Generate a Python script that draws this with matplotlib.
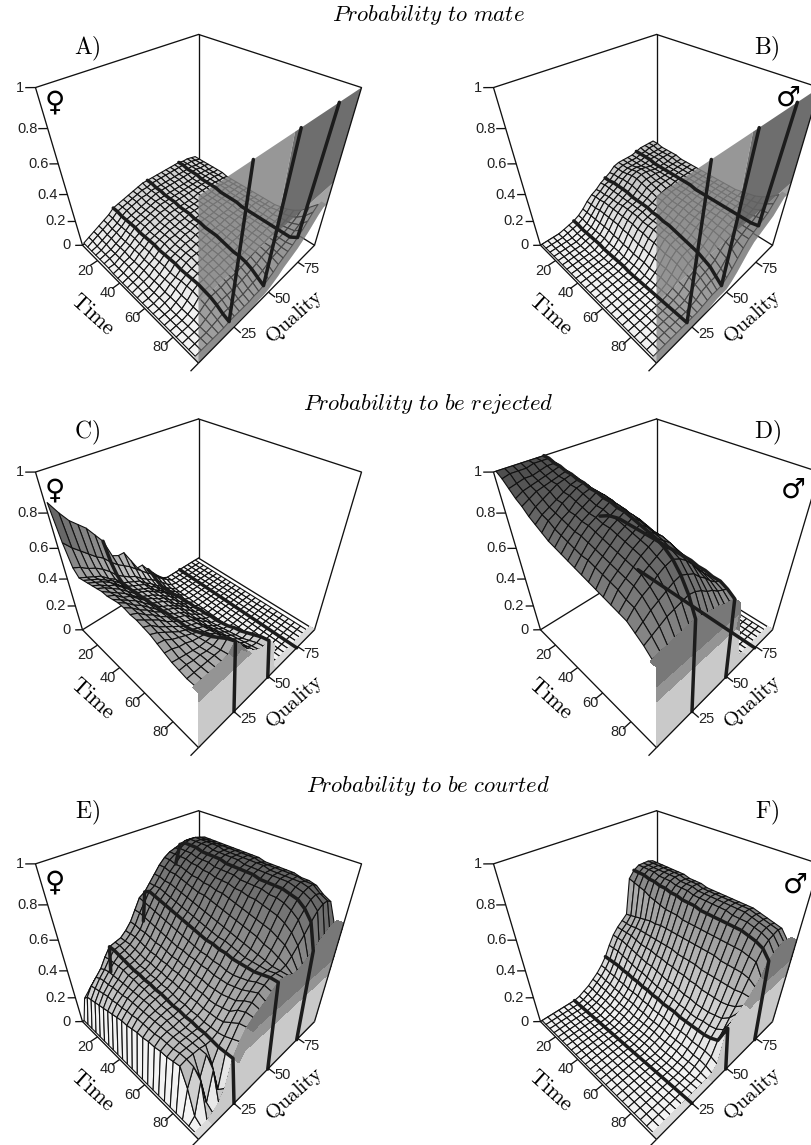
import numpy as np
import matplotlib
matplotlib.use('Agg')
import matplotlib.pyplot as plt
from mpl_toolkits.mplot3d.art3d import Poly3DCollection
from mpl_toolkits.mplot3d import proj3d

plt.rcParams['font.family'] = ['Liberation Sans', 'DejaVu Sans']
plt.rcParams['mathtext.fontset'] = 'cm'

W, H = 812, 1145

# grid of the surfaces
time_grid = [5, 9, 13, 17, 21, 25, 29, 33, 37, 41, 45, 49, 53, 57, 61, 65, 69, 73, 77, 81, 85, 89, 93]
quality_grid = [4, 7.5, 11, 14.5, 18, 21.5, 25, 28.5, 32, 35.5, 39, 42.5, 46, 49.5, 53, 56.5, 60, 63.5, 67, 70.5, 74, 77.5, 81, 84.5, 88]
time_end = 96
time_ticks = [20, 40, 60, 80]
quality_ticks = [25, 50, 75]
z_ticks = [0, 0.2, 0.4, 0.6, 0.8, 1]
z_tick_labels = ['0', '0.2', '0.4', '0.6', '0.8', '1']
line_columns = [6, 13, 20]  # the thick lines are at quality 25, 50, 75

# probability x 100, one row per time step, one column per quality step
a_rows = [
    [1,3,5,7,9,11,14,15,16,17,18,19,20,20,20,20,20,20,20,20,20,19,19,18,17],
    [1,3,5,7,9,11,14,15,16,17,18,19,19,20,20,20,20,20,20,20,20,19,19,18,17],
    [1,2,4,6,8,10,13,15,16,17,18,18,19,19,19,19,19,19,19,19,19,19,18,18,17],
    [1,2,4,6,8,10,13,14,15,16,17,18,19,19,19,19,19,19,19,19,19,19,18,18,17],
    [1,2,3,5,7,10,13,14,15,16,17,18,18,18,18,18,18,18,18,18,19,18,18,17,17],
    [1,2,3,5,7,10,13,14,15,16,17,18,18,18,18,18,18,18,18,18,18,18,18,17,17],
    [1,1,3,5,7,10,12,14,15,16,17,17,18,18,18,18,18,18,18,18,18,18,18,17,17],
    [0,1,3,4,7,9,12,13,14,15,16,17,17,17,17,17,17,18,18,18,18,18,17,17,16],
    [0,1,3,4,7,9,12,13,14,15,16,16,17,17,17,17,17,17,17,17,18,18,17,17,16],
    [0,1,2,4,6,9,12,13,14,15,15,16,16,17,17,17,17,17,17,17,17,18,17,17,16],
    [0,1,2,4,6,8,11,13,14,14,15,15,16,16,16,16,17,17,17,17,17,17,17,17,16],
    [0,1,2,3,6,8,11,12,13,14,15,15,16,16,16,16,16,17,17,17,17,17,17,17,16],
    [0,1,1,3,5,8,11,12,13,14,14,15,15,15,16,16,16,16,16,17,17,17,17,16,16],
    [0,0,1,3,5,7,11,12,13,13,14,14,15,15,15,15,16,16,16,16,16,17,17,16,16],
    [0,0,1,2,5,7,10,12,13,13,13,14,14,15,15,15,15,16,16,16,16,17,17,16,16],
    [0,0,1,2,5,8,10,11,12,12,13,13,14,14,14,15,15,15,16,16,16,16,17,16,16],
    [0,0,0,2,4,8,10,11,11,12,12,13,13,13,14,14,15,15,16,16,16,16,17,16,16],
    [0,0,0,1,4,8,10,10,11,11,11,12,12,12,13,14,14,15,15,16,16,16,16,17,17],
    [0,0,0,1,3,7,9,9,10,10,10,11,11,12,12,13,14,15,15,16,16,16,17,17,18],
    [0,0,0,1,3,6,8,8,8,9,9,9,10,11,12,13,14,14,15,15,16,16,17,18,20],
    [0,0,0,0,2,4,6,6,6,6,6,7,8,9,10,12,13,14,15,15,16,17,18,20,23],
    [0,0,0,0,1,2,3,3,3,3,3,4,5,6,8,10,12,13,14,15,16,18,20,24,28],
    [0,0,0,0,0,0,1,1,1,1,1,2,2,3,5,7,10,12,14,16,19,22,26,30,33],
]

b_rows = [
    [0,0,0,0,1,2,3,5,8,12,15,17,20,22,24,27,28,28,28,28,29,30,30,30,30],
    [0,0,0,0,1,2,3,5,8,12,16,18,21,22,25,27,28,28,28,28,29,29,30,30,30],
    [0,0,0,0,0,1,2,4,8,12,16,18,21,23,25,27,28,28,28,28,29,29,29,29,29],
    [0,0,0,0,0,1,2,4,8,13,17,19,21,23,26,28,29,29,28,28,29,29,29,29,29],
    [0,0,0,0,0,1,2,4,8,13,17,19,21,23,26,29,30,30,29,28,28,29,29,29,29],
    [0,0,0,0,0,1,2,4,8,13,17,19,21,23,26,29,30,30,29,28,28,28,28,29,29],
    [0,0,0,0,0,0,2,4,8,13,17,20,21,22,25,28,29,29,29,28,28,28,28,28,28],
    [0,0,0,0,0,0,1,3,7,13,17,20,21,22,24,27,28,28,28,28,28,28,28,28,28],
    [0,0,0,0,0,0,1,3,7,12,17,20,21,22,24,26,27,28,28,28,28,28,28,28,28],
    [0,0,0,0,0,0,1,3,6,12,17,20,21,22,23,25,26,27,27,28,28,28,28,28,28],
    [0,0,0,0,0,0,1,2,6,11,16,19,20,21,23,25,26,27,27,27,28,28,28,28,28],
    [0,0,0,0,0,0,1,2,5,10,16,19,20,21,22,24,25,26,27,27,28,28,28,28,28],
    [0,0,0,0,0,0,0,2,5,10,15,19,20,20,22,24,25,26,27,27,27,28,28,28,28],
    [0,0,0,0,0,0,0,2,5,9,15,18,19,20,21,23,25,26,26,27,27,28,28,28,28],
    [0,0,0,0,0,0,0,1,4,9,14,18,19,19,21,23,24,25,26,27,27,28,28,28,28],
    [0,0,0,0,0,0,0,1,4,8,13,17,18,18,20,22,24,25,26,27,27,28,28,28,28],
    [0,0,0,0,0,0,0,1,4,8,13,16,17,17,19,22,24,25,26,27,27,28,28,28,28],
    [0,0,0,0,0,0,0,1,3,7,12,15,16,16,18,21,23,25,26,27,27,28,28,28,29],
    [0,0,0,0,0,0,0,1,3,6,10,13,14,15,17,20,23,24,26,27,27,28,28,29,30],
    [0,0,0,0,0,0,0,1,2,5,9,11,12,13,15,19,22,24,25,26,27,28,29,30,31],
    [0,0,0,0,0,0,0,0,1,4,7,9,10,11,13,17,21,23,25,26,27,28,29,31,33],
    [0,0,0,0,0,0,0,0,1,2,5,6,7,7,10,15,19,22,24,26,27,29,31,33,36],
    [0,0,0,0,0,0,0,0,0,1,2,3,3,3,6,10,15,20,24,26,28,30,32,36,40],
]

# c and d: columns 0-17 only, higher quality stays at 0
c_rows = [
    [85,78,72,68,64,58,52,40,38,38,30,22,22,16,11,6,2,0],
    [65,60,56,52,48,45,40,36,33,30,26,22,18,15,10,6,3,0],
    [52,50,47,45,42,38,33,30,27,25,21,18,15,12,8,4,1,0],
    [48,46,44,42,38,35,30,28,26,24,20,17,13,10,6,3,0,0],
    [49,47,45,42,39,35,30,28,26,24,20,17,13,10,6,3,0,0],
    [50,48,46,43,39,35,30,28,26,24,20,17,13,10,6,3,0,0],
    [51,49,46,44,40,36,31,29,27,24,21,18,14,11,6,2,0,0],
    [52,50,47,44,40,36,31,29,27,24,21,18,14,12,6,2,0,0],
    [53,50,47,44,40,36,32,30,27,25,21,18,14,12,6,2,0,0],
    [53,51,47,45,41,37,32,30,28,25,21,18,15,13,6,2,0,0],
    [54,51,48,45,41,37,33,30,28,25,22,19,15,13,6,2,0,0],
    [55,52,48,45,41,37,33,31,29,26,22,19,15,14,6,2,0,0],
    [55,52,48,45,41,38,34,31,29,26,22,19,16,14,6,2,0,0],
    [54,52,48,45,41,38,34,32,30,26,22,19,16,15,6,2,0,0],
    [54,51,48,45,41,38,35,32,30,27,23,20,16,15,6,2,0,0],
    [53,51,47,44,41,38,35,33,31,27,23,20,17,16,6,1,0,0],
    [52,50,47,44,41,39,36,34,32,28,24,21,18,17,6,1,0,0],
    [50,49,46,44,42,40,38,35,33,29,25,22,19,19,6,1,0,0],
    [48,47,45,44,42,41,40,37,34,30,26,23,20,20,6,1,0,0],
    [46,45,44,43,42,42,42,38,35,31,27,24,21,22,5,1,0,0],
    [45,45,44,44,43,43,45,40,36,32,28,25,23,24,4,0,0,0],
    [44,44,44,44,44,44,48,42,37,33,29,26,25,26,4,0,0,0],
    [44,44,44,44,44,45,50,43,38,34,30,27,26,27,3,0,0,0],
]

d_rows = [
    [100,100,100,100,100,100,100,96,90,83,75,67,60,56,40,20,7,1],
    [98,99,99,99,100,100,100,96,91,84,76,69,62,58,41,21,7,1],
    [95,96,97,97,98,99,99,95,90,84,77,70,64,60,43,22,7,1],
    [92,94,95,96,97,98,99,95,91,85,78,71,65,61,44,22,7,1],
    [90,92,94,95,96,97,98,94,90,84,78,71,66,62,44,22,7,1],
    [87,90,92,94,96,97,98,94,90,84,78,71,66,62,44,22,7,1],
    [85,88,90,92,94,96,97,93,89,84,77,71,66,62,44,22,7,1],
    [83,87,89,92,94,96,97,93,89,84,77,71,66,62,44,22,7,1],
    [81,85,88,90,93,95,96,93,89,83,77,71,65,62,44,22,7,1],
    [80,84,87,90,92,94,96,93,89,83,77,71,65,62,44,22,7,1],
    [79,83,86,89,91,93,95,92,88,82,77,71,65,62,44,22,7,1],
    [78,82,86,89,91,93,95,92,88,82,77,71,65,62,44,22,7,1],
    [77,81,85,88,90,92,94,91,87,82,76,70,65,62,44,22,7,1],
    [76,81,84,87,90,92,94,91,87,82,76,70,65,62,44,22,7,1],
    [75,80,83,86,89,91,93,90,86,81,76,70,65,62,44,22,7,1],
    [74,79,82,85,88,90,92,89,85,81,75,70,65,62,44,22,7,1],
    [73,78,81,84,87,89,91,88,85,80,75,70,65,62,44,22,7,1],
    [72,77,80,83,86,88,90,87,84,79,74,69,64,61,44,22,7,1],
    [71,75,79,82,84,86,88,85,82,78,73,68,63,61,44,22,7,1],
    [70,74,77,79,82,84,85,83,80,76,71,67,63,60,42,20,6,1],
    [67,70,73,75,77,79,80,78,76,72,69,65,62,60,40,18,5,1],
    [64,66,68,70,71,72,73,72,70,67,65,62,60,58,38,16,5,1],
    [60,61,61,62,62,63,63,62,61,60,59,57,56,55,34,14,4,1],
]

e_rows = [
    [0,16,20,24,27,30,24,30,37,43,44,46,47,47,62,68,72,73,73,73,74,76,76,76,76],
    [0,20,26,30,34,40,45,46,47,50,54,60,66,68,72,76,80,83,85,86,87,88,88,87,86],
    [0,21,27,32,36,41,45,46,47,50,54,60,65,70,72,76,80,83,85,87,89,90,90,89,88],
    [0,22,28,33,37,41,44,45,47,50,53,59,64,69,72,75,79,82,85,87,89,90,90,89,88],
    [0,23,29,33,37,41,43,44,46,49,53,58,63,68,71,75,79,82,85,87,89,90,90,89,88],
    [0,24,30,34,37,41,42,43,45,48,52,57,62,67,70,74,78,81,84,86,88,90,90,89,88],
    [0,25,30,34,37,40,41,42,44,47,51,56,61,66,69,73,77,80,84,86,88,89,90,89,88],
    [0,26,31,34,37,40,41,42,44,47,51,55,60,65,68,72,76,80,83,86,88,89,89,89,88],
    [0,27,31,35,37,39,40,41,43,46,50,54,59,64,67,71,75,79,83,85,88,89,89,89,88],
    [0,28,32,35,37,39,40,41,43,46,49,53,58,63,66,70,75,79,82,85,87,89,89,89,88],
    [0,28,32,35,37,38,39,40,42,45,49,53,57,62,65,69,74,78,82,85,87,89,89,89,88],
    [0,29,33,35,37,38,39,40,42,45,48,52,56,61,64,68,73,78,82,85,87,88,89,89,88],
    [0,30,33,35,36,37,38,39,41,44,48,52,55,60,63,67,72,77,81,84,87,88,89,88,87],
    [0,30,33,35,36,37,37,38,41,44,47,51,55,60,62,66,71,76,81,84,87,88,89,88,87],
    [0,31,33,35,36,36,37,38,40,43,47,51,54,59,62,65,70,75,80,84,86,88,88,88,87],
    [0,31,34,35,35,36,36,37,40,43,46,50,54,59,61,64,69,74,80,84,86,88,88,88,87],
    [0,32,34,35,35,35,36,37,39,42,46,50,53,58,60,63,68,73,79,83,86,88,88,88,87],
    [0,32,34,35,35,35,35,36,39,42,46,50,53,58,59,62,67,72,78,83,86,88,88,88,86],
    [0,33,35,35,35,35,35,36,39,43,47,51,54,58,59,61,65,71,77,82,85,87,88,87,86],
    [0,34,35,35,35,34,34,36,40,44,48,52,55,58,59,60,64,69,75,80,84,86,87,87,85],
    [0,22,34,22,35,24,33,37,43,48,51,54,57,59,59,59,62,67,72,77,81,84,85,84,82],
    [0,4,28,6,28,8,33,39,46,50,53,56,58,60,60,59,60,63,67,71,76,80,82,82,80],
    [0,0,0,2,6,14,33,41,47,50,52,54,57,60,60,59,57,57,58,60,62,65,67,69,70],
]

# f: columns 7-24 only, lower quality stays at 0
f_rows = [
    [1,3,5,8,11,15,20,27,33,37,40,43,66,70,72,72,72,71],
    [1,3,5,8,11,15,20,27,33,37,40,44,65,70,72,72,72,71],
    [1,2,4,7,10,14,20,27,33,37,40,45,64,70,72,72,72,71],
    [1,2,4,7,10,14,20,26,32,37,41,46,63,69,72,72,72,71],
    [0,2,4,6,9,13,19,25,31,36,41,47,61,69,71,72,72,71],
    [0,2,3,6,9,13,19,24,30,35,41,48,60,68,71,72,72,71],
    [0,1,3,5,8,12,18,23,29,35,41,48,59,68,71,72,72,71],
    [0,1,3,5,8,12,18,23,28,35,41,49,58,67,70,71,71,70],
    [0,1,3,5,8,12,17,22,28,34,41,49,58,67,70,71,71,70],
    [0,1,2,4,7,11,17,21,27,34,41,49,58,66,70,71,71,70],
    [0,1,2,4,7,11,16,20,26,33,41,49,57,66,69,70,70,69],
    [0,1,2,4,6,10,16,20,25,33,40,49,57,66,69,70,70,69],
    [0,1,2,4,6,10,15,19,25,32,40,49,57,65,69,70,70,69],
    [0,1,2,4,6,10,15,19,24,32,40,49,57,65,69,70,70,69],
    [0,1,2,3,6,9,15,18,23,31,40,49,57,65,69,70,70,69],
    [0,0,1,3,5,9,14,18,23,31,39,49,57,65,69,70,70,69],
    [0,0,1,3,5,9,14,17,22,30,39,49,57,65,68,70,70,69],
    [0,0,1,3,5,9,14,17,22,30,39,48,57,65,68,70,70,69],
    [0,0,1,2,5,8,14,18,22,30,39,48,57,65,68,69,69,68],
    [0,0,1,2,4,8,14,18,23,30,39,48,57,64,67,68,68,67],
    [0,0,0,2,4,8,15,19,24,31,39,48,56,63,66,67,67,66],
    [0,0,0,1,3,7,17,22,28,33,40,47,55,61,64,65,66,65],
    [0,0,0,0,1,5,30,33,35,37,40,44,48,56,58,60,61,60],
]


def px_axes(cx, cy):
    # square 3d axes whose view centre falls on pixel (cx, cy)
    size = 407
    left = cx - 0.5135 * size
    bottom = H - (cy + 0.5135 * size)
    ax = fig.add_axes([left / W, bottom / H, size / W, size / H], projection='3d')
    ax.set_box_aspect((1, 1, 1.03), zoom=0.8)
    ax.set_proj_type('persp', focal_length=0.168)
    ax.view_init(elev=39.1, azim=-45)
    ax.set_xlim(5, time_end)
    ax.set_ylim(3, 91)
    ax.set_zlim(0, 1)
    ax.set_xticks([])
    ax.set_yticks([])
    ax.set_zticks([])
    ax.set_axis_off()
    ax.patch.set_alpha(0)
    ax.computed_zorder = False
    return ax


def tick_label(ax, x, y, z, s, dx, dy):
    # label placed a few pixels away from a point of the box
    xs, ys, _ = proj3d.proj_transform(x, y, z, ax.get_proj())
    ax.annotate(s, (xs, ys), xytext=(dx * 0.72, -dy * 0.72), textcoords='offset points', ha='center', va='center',
                fontsize=10.5, color='#222222', zorder=6, annotation_clip=False)


def band_colour(v):
    if v > 0.48:
        return (0.47, 0.47, 0.47, 1)
    if v > 0.38:
        return (0.58, 0.58, 0.58, 1)
    if v > 0:
        return (0.79, 0.79, 0.79, 1)
    return (0.86, 0.86, 0.86, 1)


def rising_wall(ax, t, wq, last):
    # translucent sheet from the last mesh row up to 1, drawn as whole polygons
    bottom = [(time_end, a, b) for a, b in zip(wq, last)]
    strip = [(t[-1], a, b) for a, b in zip(wq, last)] + bottom[::-1]
    lower = bottom + [(time_end, 91, 0.48), (time_end, 3, 0.48)]
    upper_l = [(time_end, 3, 0.48), (time_end, 46, 0.48), (time_end, 46, 1), (time_end, 3, 1)]
    upper_r = [(time_end, 46, 0.48), (time_end, 91, 0.48), (time_end, 91, 1), (time_end, 46, 1)]
    polys = [strip, lower, upper_l, upper_r]
    colours = [(0.55, 0.55, 0.55, 0.5), (0.42, 0.42, 0.42, 0.62), (0.52, 0.52, 0.52, 0.85), (0.4, 0.4, 0.4, 0.95)]
    ax.add_collection3d(Poly3DCollection(polys, facecolors=colours, edgecolors='none', zorder=3))


def falling_wall(ax, t, wq, last):
    # opaque wall from the floor up to the last mesh row, in grey bands
    cuts = [(0, 0.38, (0.79, 0.79, 0.79, 1)),
            (0.38, 0.48, (0.58, 0.58, 0.58, 1)),
            (0.48, 2, (0.47, 0.47, 0.47, 1))]
    polys, colours = [], []
    for i in range(len(wq) - 1):
        polys.append([(t[-1], wq[i], last[i]), (t[-1], wq[i + 1], last[i + 1]),
                      (time_end, wq[i + 1], last[i + 1]), (time_end, wq[i], last[i])])
        colours.append(band_colour(max(last[i], last[i + 1])))
        for lo, hi, colour in cuts:
            a0, a1 = min(lo, last[i]), min(lo, last[i + 1])
            b0, b1 = min(hi, last[i]), min(hi, last[i + 1])
            if b0 > a0 or b1 > a1:
                polys.append([(time_end, wq[i], a0), (time_end, wq[i + 1], a1),
                              (time_end, wq[i + 1], b1), (time_end, wq[i], b0)])
                colours.append(colour)
    ax.add_collection3d(Poly3DCollection(polys, facecolors=colours, edgecolors='none', zorder=3, antialiased=False))


def draw_panel(cx, cy, z, rising):
    ax = px_axes(cx, cy)
    t = np.array(time_grid, dtype=float)
    q = np.array(quality_grid, dtype=float)
    T, Q = np.meshgrid(t, q, indexing='ij')

    k = dict(color='#111111', lw=0.95, zorder=1, solid_capstyle='round')
    # back of the box
    ax.plot([5, 5], [3, 91], [1, 1], **k)
    ax.plot([5, time_end], [91, 91], [1, 1], **k)
    ax.plot([5, 5], [91, 91], [0, 1], **k)
    ax.plot([5, 5], [3, 91], [0, 0], **k)
    ax.plot([5, time_end], [91, 91], [0, 0], **k)

    shade = np.clip(0.95 - 0.64 * z, 0, 1)
    cols = plt.cm.gray(shade)
    ax.plot_surface(T, Q, z, rstride=1, cstride=1, facecolors=cols, shade=False,
                    edgecolor='#111111', linewidth=0.8, zorder=2, antialiased=True)

    # end wall at the last time step
    wq = np.r_[3, q, 91]
    last = np.r_[z[-1, 0], z[-1], z[-1, -1]]
    if rising:
        rising_wall(ax, t, wq, last)
    else:
        falling_wall(ax, t, wq, last)

    # thick lines along time
    for c in line_columns:
        tl = list(t) + [time_end]
        ql = [q[c]] * len(tl)
        zl = list(z[:, c]) + [1.0 if rising else 0.0]
        ax.plot(tl, ql, zl, color='#1c1c1c', lw=2.5, zorder=4, solid_capstyle='round', solid_joinstyle='round')

    # front edges and ticks
    f = dict(color='#111111', lw=0.95, zorder=5, solid_capstyle='butt')
    ax.plot([5, 5], [3, 3], [0, 1], **f)
    ax.plot([time_end, time_end], [91, 91], [0, 1], **f)
    ax.plot([5, time_end], [3, 3], [0, 0], **f)
    ax.plot([time_end, time_end], [3, 91], [0, 0], **f)
    for v in time_ticks + [time_end]:
        ax.plot([v, v], [3, -1.5], [0, 0], **f)
    for v in time_ticks:
        tick_label(ax, v, 3, 0, str(v), -12, 10)
    for v in quality_ticks:
        ax.plot([time_end, time_end + 4], [v, v], [0, 0], **f)
        tick_label(ax, time_end, v, 0, str(v), 14, 7)
    for v, s in zip(z_ticks, z_tick_labels):
        ax.plot([5, 2.2], [3, 0.2], [v, v], **f)
        tick_label(ax, 5, 3, v, s, -20 if len(s) > 1 else -16, 0)
    return ax


fig = plt.figure(figsize=(W / 100, H / 100), dpi=100)

c_table = np.array(c_rows, dtype=float) / 100
d_table = np.array(d_rows, dtype=float) / 100
f_table = np.array(f_rows, dtype=float) / 100
panels = [
    (198.5, 179.7, np.array(a_rows, dtype=float) / 100, True),
    (656.5, 179.7, np.array(b_rows, dtype=float) / 100, True),
    (198.5, 564.2, np.hstack([c_table, np.zeros((23, 7))]), False),
    (656.5, 564.2, np.hstack([d_table, np.zeros((23, 7))]), False),
    (198.5, 956.0, np.array(e_rows, dtype=float) / 100, False),
    (656.5, 956.0, np.hstack([np.zeros((23, 7)), f_table]), False),
]
for cx, cy, z, rising in panels:
    draw_panel(cx, cy, z, rising)
    fig.text((cx - 106.5) / W, 1 - (cy + 135) / H, r'$\mathrm{Time}$', rotation=-42, ha='center', va='center', fontsize=16)
    fig.text((cx + 96.5) / W, 1 - (cy + 138) / H, r'$\mathrm{Quality}$', rotation=42, ha='center', va='center', fontsize=15)

titles = [('Probability\\ to\\ mate', 15), ('Probability\\ to\\ be\\ rejected', 404), ('Probability\\ to\\ be\\ courted', 786)]
for s, y in titles:
    fig.text(428 / W, 1 - y / H, r'$\mathit{' + s + '}$', ha='center', va='center', fontsize=16.3)

letters = [('A)', 87, 49), ('B)', 767, 49), ('C)', 87, 433), ('D)', 767, 433), ('E)', 87, 813), ('F)', 767, 813)]
for s, x, y in letters:
    fig.text(x / W, 1 - y / H, r'$\mathrm{' + s + '}$', ha='center', va='center', fontsize=17)

signs = [('\u2640', 55, 102), ('\u2642', 788, 98), ('\u2640', 55, 490), ('\u2642', 793, 490), ('\u2640', 55, 882), ('\u2642', 795, 885)]
for s, x, y in signs:
    fig.text(x / W, 1 - y / H, s, ha='center', va='center', fontsize=20, family='DejaVu Sans', weight='bold')

fig.savefig('out.png', dpi=100)
